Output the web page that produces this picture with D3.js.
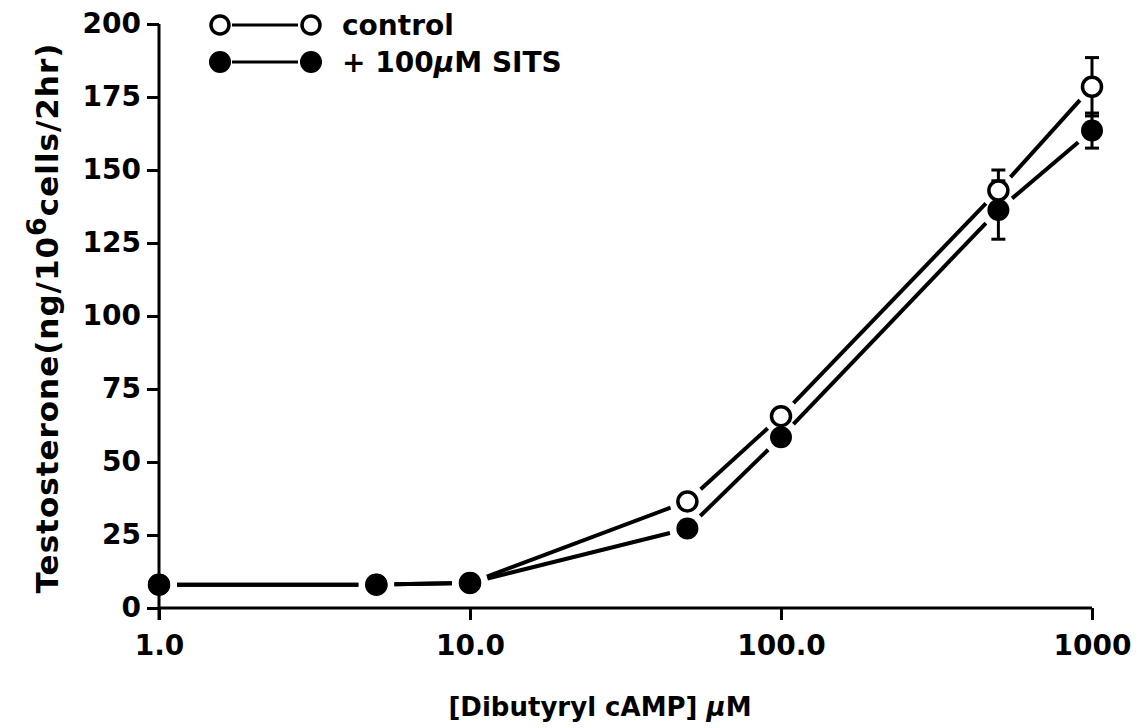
<!DOCTYPE html>
<html>
<head>
<meta charset="utf-8">
<script src="https://cdn.jsdelivr.net/npm/d3@7"></script>
<style>
  html, body { margin: 0; padding: 0; background: #fff; }
  svg text { font-family: "DejaVu Sans", "Liberation Sans", Arial, sans-serif; font-weight: bold; fill: #000; }
</style>
</head>
<body>
<svg id="chart" width="1142" height="728"></svg>
<script>
// ---- data ----
const doses = [1, 5, 10, 50, 100, 500, 1000];
const controlValues = [8, 8, 8.6, 36.5, 65.7, 143, 178.5];
const controlErrors = [0, 0, 0, 0, 0, 7, 10];
const sitsValues = [8, 8, 8.6, 27.2, 58.5, 136.3, 163.5];
const sitsErrors = [0, 0, 0, 0, 0, 10, 6];
const xTickValues = [1, 10, 100, 1000];
const xTickLabels = ["1.0", "10.0", "100.0", "1000"];
const yTickValues = [0, 25, 50, 75, 100, 125, 150, 175, 200];
const legendLabels = ["control", "+ 100\u03BCM SITS"];

// ---- layout ----
const svg = d3.select("#chart");
const x = d3.scaleLog().domain([1, 1000]).range([159, 1092]);
const y = d3.scaleLinear().domain([0, 200]).range([608, 24]);
const R = 11;

// axes
const xAxis = d3.axisBottom(x).tickValues(xTickValues)
  .tickFormat((d, i) => xTickLabels[i]).tickSize(12).tickPadding(14);
const gx = svg.append("g").attr("transform", `translate(0,${y(0)})`).call(xAxis);
gx.select(".domain").attr("d", `M${x(1)},0H${x(1000)}`).attr("stroke-width", 3);
gx.selectAll(".tick line").attr("stroke-width", 3);
gx.selectAll(".tick text").attr("font-size", 28).attr("dy", "0.75em");

const yAxis = d3.axisLeft(y).tickValues(yTickValues).tickSize(12).tickPadding(6);
const gy = svg.append("g").attr("transform", `translate(${x(1)},0)`).call(yAxis);
gy.select(".domain").attr("d", `M0,${y(200)}V${y(0) + 12}`).attr("stroke-width", 3);
gy.selectAll(".tick line").attr("stroke-width", 3);
gy.selectAll(".tick text").attr("font-size", 28);

// axis titles
const xt = svg.append("text").attr("x", 600).attr("y", 716)
  .attr("text-anchor", "middle").attr("font-size", 26);
xt.append("tspan").text("[Dibutyryl cAMP] ");
xt.append("tspan").attr("font-style", "italic").text("\u03BC");
xt.append("tspan").text("M");

const yt = svg.append("text")
  .attr("transform", `translate(58,318) rotate(-90)`)
  .attr("text-anchor", "middle").attr("font-size", 31).attr("letter-spacing", 1);
yt.append("tspan").text("Testosterone(ng/10");
yt.append("tspan").attr("baseline-shift", "45%").attr("font-size", 27).text("6");
yt.append("tspan").attr("baseline-shift", "0%").text("cells/2hr)");

// series
const series = [
  { vals: controlValues, errs: controlErrors, open: true },
  { vals: sitsValues, errs: sitsErrors, open: false }
];

const gap = R + 7;
series.forEach(s => {
  const pts = doses.map((d, i) => [x(d), y(s.vals[i])]);
  for (let i = 0; i < pts.length - 1; i++) {
    const [x1, y1] = pts[i], [x2, y2] = pts[i + 1];
    const len = Math.hypot(x2 - x1, y2 - y1);
    if (len <= 2 * gap) continue;
    const ux = (x2 - x1) / len, uy = (y2 - y1) / len;
    svg.append("line")
      .attr("x1", x1 + ux * gap).attr("y1", y1 + uy * gap)
      .attr("x2", x2 - ux * gap).attr("y2", y2 - uy * gap)
      .attr("stroke", "#000").attr("stroke-width", 4);
  }
});

// error bars
series.forEach(s => {
  doses.forEach((d, i) => {
    const e = s.errs[i];
    if (!e) return;
    const cx = x(d), top = y(s.vals[i] + e), bot = y(s.vals[i] - e);
    svg.append("line").attr("x1", cx).attr("x2", cx).attr("y1", top).attr("y2", bot)
      .attr("stroke", "#000").attr("stroke-width", 3);
    [top, bot].forEach(v => svg.append("line")
      .attr("x1", cx - 7).attr("x2", cx + 7).attr("y1", v).attr("y2", v)
      .attr("stroke", "#000").attr("stroke-width", 3));
  });
});

// markers: open first, filled on top
series.forEach(s => {
  svg.append("g").selectAll("circle").data(doses).join("circle")
    .attr("cx", d => x(d)).attr("cy", (d, i) => y(s.vals[i]))
    .attr("r", s.open ? R - 1.5 : R)
    .attr("fill", s.open ? "#fff" : "#000")
    .attr("stroke", "#000").attr("stroke-width", s.open ? 3.5 : 0);
});

// legend
const legendRows = [25, 62];
legendLabels.forEach((lab, i) => {
  const ly = legendRows[i], open = i === 0;
  svg.append("line").attr("x1", 232).attr("x2", 298).attr("y1", ly).attr("y2", ly)
    .attr("stroke", "#000").attr("stroke-width", 3);
  [220, 311].forEach(cx => svg.append("circle").attr("cx", cx).attr("cy", ly)
    .attr("r", open ? R - 2 : R).attr("fill", open ? "#fff" : "#000")
    .attr("stroke", "#000").attr("stroke-width", open ? 3.5 : 0));
  const t = svg.append("text").attr("x", 342).attr("y", ly + 10).attr("font-size", 28);
  if (open) t.text(lab);
  else {
    t.append("tspan").text("+ 100");
    t.append("tspan").attr("font-style", "italic").text("\u03BC");
    t.append("tspan").text("M SITS");
  }
});
</script>
</body>
</html>
